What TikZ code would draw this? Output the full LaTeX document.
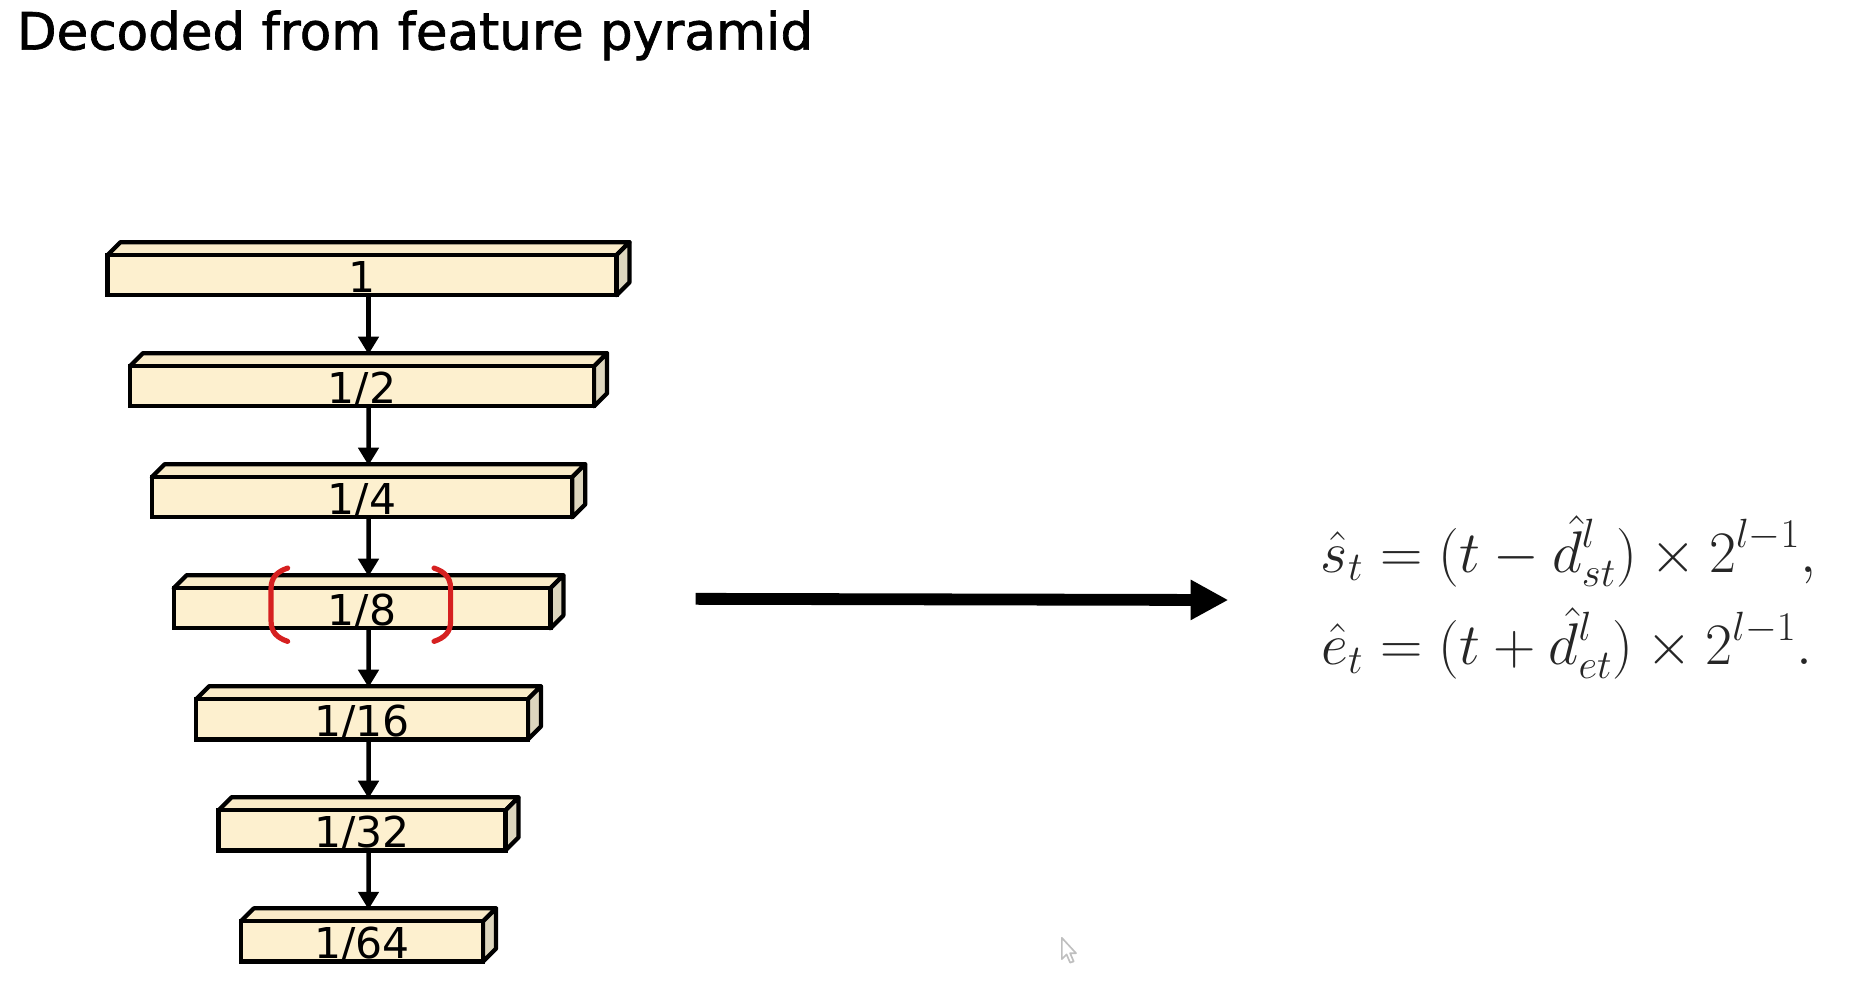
\documentclass[tikz,border=0pt]{standalone}
\usepackage{fontspec}
\setmainfont{DejaVu Sans}
\newfontfamily\headfont{DejaVu Sans}[FakeBold=1.3]
\usepackage{amsmath}
\usetikzlibrary{arrows.meta,backgrounds}

\definecolor{slabfront}{RGB}{253,240,207}
\definecolor{slabtop}{RGB}{249,235,200}
\definecolor{slabside}{RGB}{221,214,190}
\definecolor{bracketred}{RGB}{214,32,32}

\tikzset{
  slab/.style={draw, line width=1.8pt, fill=slabfront, inner sep=0pt, outer sep=0pt,
    minimum height=17pt, text height=14.5pt, text depth=0pt, font=\fontsize{18}{18}\selectfont},
  face/.style={draw, line width=1.8pt, line join=round},
  paren/.style={draw=bracketred, line width=2.2pt, line cap=round},
  bigarrow/.style={line width=5pt, -{Triangle[length=16pt,width=16pt]}}
}

\begin{document}
\begin{tikzpicture}[x=0.5pt, y=-0.5pt,
    level distance=47pt,
    edge from parent/.style={draw, line width=1.9pt, -{Triangle[length=7.5pt,width=8.5pt]}},
    edge from parent path={([xshift=2.75pt]\tikzparentnode.south) -- ([xshift=2.75pt,yshift=5pt]\tikzchildnode.north)}
    ]
    \useasboundingbox (0,0) rectangle (1568,830);

    \node[anchor=base west, inner sep=0pt, font=\headfont\fontsize{21.8}{26}\selectfont] (title) at (14,42) {Decoded from feature pyramid};

    \node[slab, minimum width=215.5pt] (b1) at (306.5,233) {1}
      child {node[slab, minimum width=196.5pt] (b2) {1/2}
        child {node[slab, minimum width=178pt] (b3) {1/4}
          child {node[slab, minimum width=159.5pt] (b4) {1/8}
            child {node[slab, minimum width=140.5pt] (b5) {1/16}
              child {node[slab, minimum width=121.5pt] (b6) {1/32}
                child {node[slab, minimum width=102.5pt] (b7) {1/64}}
              }
            }
          }
        }
      };

    \begin{pgfonlayer}{background}
      \foreach \i in {1,...,7} {
        \filldraw[face, fill=slabtop] (b\i.north west) -- ++(5.5pt,5.5pt)
          -- ([shift={(5.5pt,5.5pt)}]b\i.north east) -- (b\i.north east) -- cycle;
        \filldraw[face, fill=slabside] (b\i.north east) -- ++(5.5pt,5.5pt)
          -- ++(0pt,-17pt) -- (b\i.south east) -- cycle;
      }
    \end{pgfonlayer}

    \begin{scope}[shift={(b4.center)}]
      \draw[paren] (-63,-34) .. controls (-72,-31) and (-77,-26) .. (-77,-17) -- (-77,11)
        .. controls (-77,20) and (-72,25) .. (-63,28);
      \draw[paren] (61,-34) .. controls (70,-31) and (75,-26) .. (75,-17) -- (75,11)
        .. controls (75,20) and (70,25) .. (61,28);
    \end{scope}

    \node[anchor=west, inner sep=0pt, text=black!85, font=\fontsize{25}{36}\selectfont] (eq) at (1118,509)
      {$\begin{aligned}
        \hat{s}_t &= (t - \hat{d}^{l}_{st}) \times 2^{l-1},\\
        \hat{e}_t &= (t + \hat{d}^{l}_{et}) \times 2^{l-1}.
      \end{aligned}$};

    \draw[bigarrow] ([shift={(123,-8)}]b4.east) -- ([shift={(-78,-1)}]eq.west);

    \draw[gray!50, line width=0.7pt, line join=round] (899,794) -- (899,812) -- (903,808) -- (906,815)
      -- (909,814) -- (906,807) -- (911,807) -- cycle;
  \end{tikzpicture}
\end{document}
